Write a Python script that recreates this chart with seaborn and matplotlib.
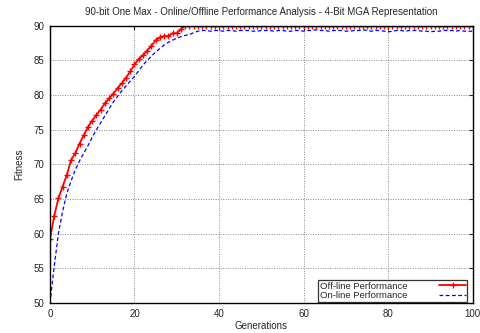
import matplotlib
matplotlib.use("Agg")
import matplotlib.pyplot as plt
import seaborn as sns
import pandas as pd

offline_head = [59.2, 62.5, 65.1, 66.8, 68.5, 70.6, 71.6, 73.0, 74.2, 75.4,
                76.3, 77.1, 77.9, 78.8, 79.5, 80.2, 81.0, 81.7, 82.5, 83.4,
                84.4, 85.2, 85.7, 86.4, 87.1, 87.9, 88.3, 88.5, 88.5, 88.9,
                88.9, 89.5]
offline_tail = [90.0] * 69
offline = offline_head + offline_tail

online = [50.0, 55.2, 60.0, 63.2, 65.8, 67.6, 69.2, 70.5, 71.6, 72.7,
          73.9, 75.0, 76.0, 77.0, 78.0, 79.0, 79.8, 80.6, 81.3, 82.0,
          82.7, 83.5, 84.3, 85.0, 85.6, 86.2, 86.7, 87.2, 87.6, 87.9,
          88.2, 88.4, 88.6, 88.7, 89.0, 89.2, 89.3, 89.3, 89.2, 89.3,
          89.3, 89.2, 89.3, 89.3, 89.2, 89.3, 89.3, 89.3, 89.2, 89.2,
          89.3, 89.3, 89.3, 89.2, 89.3, 89.3, 89.2, 89.2, 89.3, 89.3,
          89.2, 89.3, 89.3, 89.4, 89.3, 89.3, 89.2, 89.3, 89.3, 89.3,
          89.2, 89.2, 89.3, 89.3, 89.4, 89.3, 89.2, 89.3, 89.3, 89.2,
          89.1, 89.2, 89.3, 89.3, 89.2, 89.3, 89.3, 89.3, 89.2, 89.2,
          89.1, 89.2, 89.2, 89.3, 89.3, 89.3, 89.2, 89.3, 89.2, 89.2,
          89.2]
generations = list(range(len(offline)))

title = "90-bit One Max - Online/Offline Performance Analysis - 4-Bit MGA Representation"
x_label = "Generations"
y_label = "Fitness"
x_ticks = [0, 20, 40, 60, 80, 100]
y_ticks = [50, 55, 60, 65, 70, 75, 80, 85, 90]

sns.set_style("white")
plt.rcParams["font.family"] = ["Liberation Sans", "DejaVu Sans"]

fig = plt.figure(figsize=(4.8, 3.33), dpi=100)
ax = fig.add_axes([0.104, 0.09, 0.881, 0.833])

df_off = pd.DataFrame({"gen": generations, "fit": offline})
df_on = pd.DataFrame({"gen": generations, "fit": online})

sns.lineplot(data=df_off, x="gen", y="fit", ax=ax, color="#ff0000", lw=1.3,
             marker="+", markersize=5, markeredgewidth=1.0, markeredgecolor="#ff0000",
             label="Off-line Performance")
sns.lineplot(data=df_on, x="gen", y="fit", ax=ax, color="#0000ff", lw=0.9,
             linestyle=(0, (3, 2)), label="On-line Performance")

ax.set_xlim(0, 100)
ax.set_ylim(50, 90)
ax.set_xticks(x_ticks)
ax.set_yticks(y_ticks)
ax.tick_params(direction="in", top=True, right=True, labelsize=7, length=3, width=0.8, pad=4)
ax.grid(True, color="#888888", linestyle=(0, (1, 1.5)), linewidth=0.7)
for s in ax.spines.values():
    s.set_color("black")
    s.set_linewidth(1.0)

ax.set_title(title, fontsize=7, pad=8)
ax.set_xlabel(x_label, fontsize=7, labelpad=2)
ax.set_ylabel(y_label, fontsize=7, labelpad=7)

leg = ax.legend(loc="lower right", bbox_to_anchor=(0.99, 0.0), fontsize=6.8,
                markerfirst=False, frameon=True, fancybox=False, borderpad=0.15,
                labelspacing=0.05, handlelength=2.8, borderaxespad=0.15,
                handletextpad=3.4)
leg.get_frame().set_edgecolor("black")
leg.get_frame().set_linewidth(0.9)

fig.savefig("out.png", dpi=100)
